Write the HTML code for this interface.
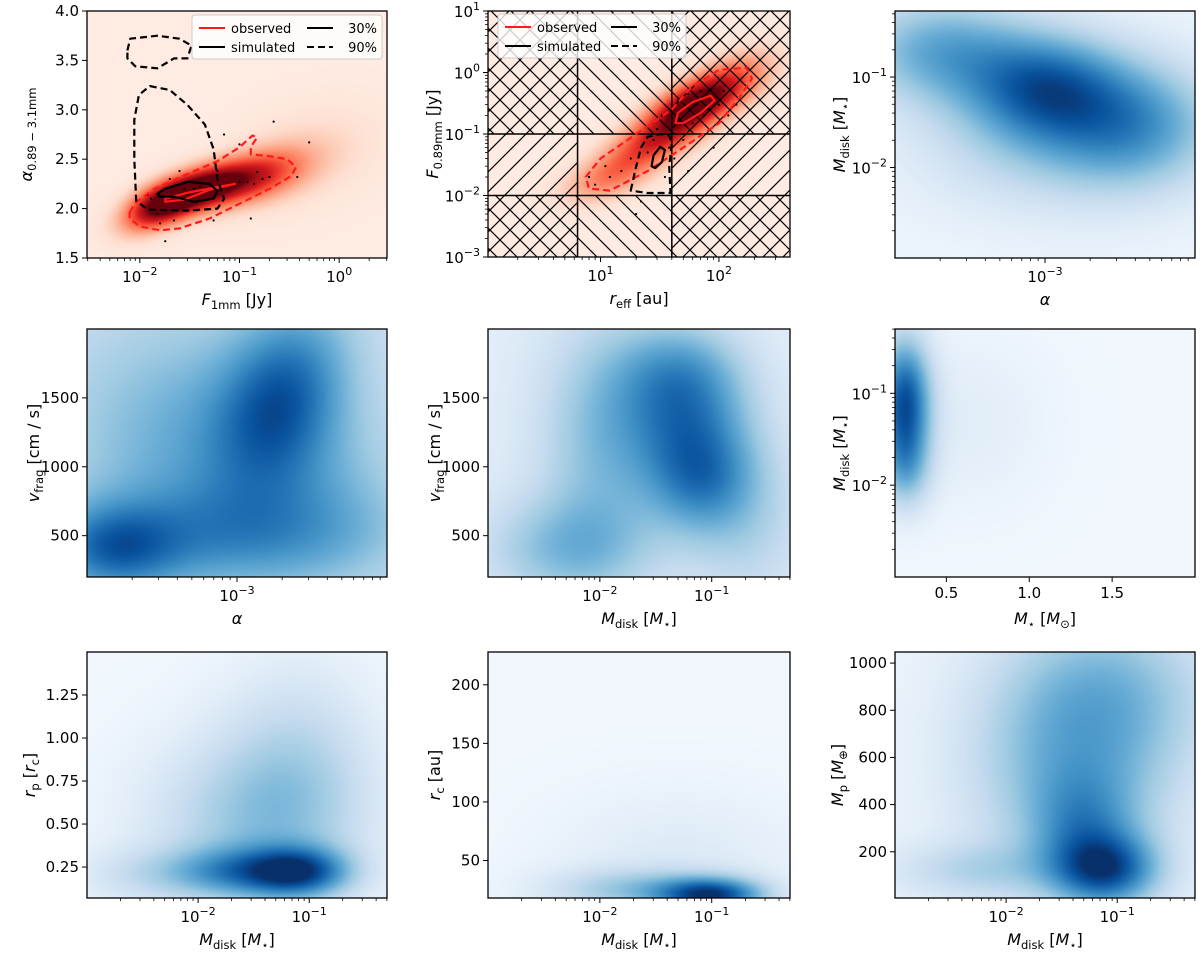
<!DOCTYPE html>
<html><head><meta charset="utf-8"><style>
body{margin:0;background:#fff;}
#wrap{position:relative;width:1200px;height:956px;overflow:hidden;font-family:"DejaVu Sans","Liberation Sans",sans-serif;}
canvas{position:absolute;}
svg{position:absolute;left:0;top:0;}
</style></head><body>
<div id="wrap">
<svg id="svg" width="1200" height="956"></svg>
</div>
<script>
// ---- data arrays (blob components: x, y, sx, sy, weight, rho) ----
const p1Blobs=[[0.03,2.15,0.1,0.07,0.85,0.6],[0.015,2.02,0.08,0.07,0.6,0.5],[0.08,2.25,0.11,0.07,0.6,0.5],[0.2,2.35,0.11,0.08,0.3,0.4],[0.5,2.55,0.16,0.13,0.1,0.3]];
const p2Blobs=[[60,0.3,0.1,0.08,0.9,0.6],[30,0.08,0.11,0.08,0.55,0.6],[12,0.02,0.1,0.07,0.35,0.5],[130,0.7,0.1,0.09,0.35,0.5]];
const p3Blobs=[[1e-3,0.08,0.18,0.15,0.6,0],[2e-4,0.2,0.2,0.15,0.45,0],[4e-3,0.03,0.2,0.18,0.45,0],[1e-3,0.02,0.3,0.2,0.25,0]];
const p4Blobs=[[1.5e-4,400,0.15,0.12,0.45,0],[2e-3,1500,0.15,0.25,0.5,0.3],[5e-4,1200,0.3,0.35,0.3,0],[1e-3,500,0.35,0.15,0.3,0],[4e-3,800,0.2,0.25,0.15,0]];
const p5Blobs=[[0.06,1300,0.15,0.2,0.45,0],[0.08,900,0.12,0.15,0.35,0],[0.05,1700,0.15,0.15,0.3,0],[0.005,400,0.2,0.15,0.3,0],[0.01,1200,0.15,0.35,0.3,0],[0.2,600,0.15,0.25,0.2,0]];
const p6Blobs=[[0.25,0.08,0.06,0.18,0.8,0],[0.25,0.015,0.06,0.12,0.3,0],[0.6,0.05,0.2,0.25,0.08,0]];
const p7Blobs=[[0.08,0.22,0.12,0.07,0.7,0],[0.02,0.22,0.15,0.07,0.4,0],[0.03,0.5,0.25,0.25,0.3,0],[0.08,0.85,0.18,0.3,0.2,0],[0.003,0.2,0.15,0.08,0.15,0]];
const p8Blobs=[[0.1,20,0.12,0.05,0.8,0],[0.02,25,0.2,0.06,0.3,0],[0.05,50,0.3,0.2,0.1,0]];
const p9Blobs=[[0.08,120,0.12,0.1,0.65,0],[0.05,300,0.12,0.15,0.3,0],[0.04,550,0.25,0.35,0.4,0],[0.1,900,0.25,0.25,0.25,0],[0.005,120,0.2,0.08,0.2,0]];
// contours panel 1 (F1mm, alpha)
const p1RedDashed=[[0.0079,1.96],[0.009,2.06],[0.014,2.2],[0.03,2.35],[0.06,2.48],[0.1,2.62],[0.135,2.74],[0.15,2.72],[0.13,2.62],[0.13,2.55],[0.2,2.53],[0.3,2.5],[0.37,2.42],[0.33,2.33],[0.2,2.2],[0.1,2.05],[0.05,1.9],[0.025,1.8],[0.016,1.78],[0.01,1.82],[0.0079,1.9]];
const p1RedSolid=[[0.018,2.1],[0.03,2.16],[0.06,2.22],[0.09,2.25],[0.05,2.19],[0.028,2.09],[0.018,2.07]];
const p1BlackDashedA=[[0.0126,3.24],[0.02,3.2],[0.03,3.05],[0.045,2.85],[0.055,2.6],[0.06,2.3],[0.07,2.1],[0.06,2.0],[0.03,1.98],[0.012,1.99],[0.0092,2.08],[0.0088,2.5],[0.0088,2.9],[0.0098,3.15]];
const p1BlackDashedB=[[0.0075,3.6],[0.008,3.72],[0.015,3.75],[0.025,3.72],[0.033,3.65],[0.03,3.52],[0.022,3.52],[0.015,3.42],[0.009,3.44],[0.0075,3.52]];
const p1BlackSolid=[[0.015,2.15],[0.018,2.2],[0.03,2.27],[0.05,2.25],[0.06,2.18],[0.055,2.1],[0.035,2.07],[0.022,2.12],[0.016,2.12]];
const p1Points=[[0.013,2.1],[0.015,1.95],[0.016,1.85],[0.018,1.67],[0.02,2.3],[0.022,1.88],[0.025,2.38],[0.028,2.2],[0.03,2.15],[0.035,2.2],[0.04,2.22],[0.055,1.88],[0.06,2.38],[0.07,2.75],[0.1,2.65],[0.1,2.27],[0.12,2.27],[0.13,1.9],[0.15,2.37],[0.14,2.25],[0.17,2.3],[0.2,2.32],[0.22,2.88],[0.38,2.32],[0.5,2.67],[0.012,2.14]];
// contours panel 2 (r_eff, F0.89mm)
const p2RedDashed=[[7.5,0.02],[10,0.04],[20,0.1],[40,0.25],[60,0.6],[100,1.1],[170,1.2],[190,0.8],[150,0.4],[100,0.15],[50,0.06],[25,0.025],[12,0.012],[8,0.013]];
const p2RedSolid=[[43,0.15],[45,0.22],[60,0.33],[85,0.42],[92,0.35],[70,0.22],[50,0.15]];
const p2BlackDashed=[[18,0.012],[20,0.03],[22,0.06],[25,0.09],[32,0.1],[38,0.095],[40,0.07],[38,0.03],[39,0.011],[25,0.011]];
const p2BlackSolid=[[27,0.03],[28,0.045],[32,0.062],[35,0.055],[33,0.035],[29,0.028]];
const p2Points=[[8,0.02],[9,0.015],[11,0.03],[12,0.02],[15,0.025],[18,0.04],[20,0.005],[22,0.008],[25,0.05],[28,0.08],[30,0.12],[33,0.2],[35,0.02],[38,0.06],[42,0.04],[45,0.35],[50,0.08],[55,0.025],[60,0.15],[65,0.3],[70,0.5],[75,0.2],[80,0.25],[90,0.06],[100,0.3],[110,0.5],[120,0.2],[140,0.3],[45,0.15],[55,0.45]];
// hatch region boundaries (panel 2)
const p2VLines=[6.4,40];
const p2HLines=[0.01,0.1];

const BLUES=["#f7fbff","#deebf7","#c6dbef","#9ecae1","#6baed6","#4292c6","#2171b5","#08519c","#08306b"];
const REDS=["#fff5f0","#fee0d2","#fcbba1","#fc9272","#fb6a4a","#ef3b2c","#cb181d","#a50f15","#67000d"];

const NS="http://www.w3.org/2000/svg";
const svg=document.getElementById('svg');
const wrap=document.getElementById('wrap');
function el(tag,attrs,parent){const e=document.createElementNS(NS,tag);for(const k in attrs)e.setAttribute(k,attrs[k]);(parent||svg).appendChild(e);return e;}
function scale(type,d0,d1,p0,p1){const f=type==='log'?(v=>Math.log10(v)):(v=>v);const a=f(d0),b=f(d1);const s=v=>p0+(f(v)-a)/(b-a)*(p1-p0);s.frac=v=>(f(v)-a)/(b-a);s.type=type;s.d0=d0;s.d1=d1;return s;}
function hex(h){return [parseInt(h.substr(1,2),16),parseInt(h.substr(3,2),16),parseInt(h.substr(5,2),16)];}
function cmap(stops,t){t=Math.max(0,Math.min(1,t));const n=stops.length-1;const i=Math.min(n-1,Math.floor(t*n));const f=t*n-i;const a=hex(stops[i]),b=hex(stops[i+1]);return [a[0]+(b[0]-a[0])*f,a[1]+(b[1]-a[1])*f,a[2]+(b[2]-a[2])*f];}

const panels=[
 {id:'p1',x:87,y:11,w:300,h:247,xs:['log',10**-2.53,10**0.48],ys:['lin',1.5,4.0],blobs:p1Blobs,base:0.06,cm:REDS,
  xt:[0.01,0.1,1],yt:[1.5,2.0,2.5,3.0,3.5,4.0],yfmt:v=>v.toFixed(1),
  xl:[['F','i'],['1mm','sub'],[' [Jy]','n']],yl:[['α','i'],['0.89 − 3.1mm','sub']]},
 {id:'p2',x:488,y:11,w:302,h:246,xs:['log',10**0.05,10**2.6],ys:['log',1e-3,10],blobs:p2Blobs,base:0.06,cm:REDS,
  xt:[10,100],yt:[1e-3,1e-2,1e-1,1,10],
  xl:[['r','i'],['eff','sub'],[' [au]','n']],yl:[['F','i'],['0.89mm','sub'],[' [Jy]','n']]},
 {id:'p3',x:895,y:11,w:300,h:247,xs:['log',1e-4,1e-2],ys:['log',1e-3,10**-0.27],blobs:p3Blobs,base:0.05,cm:BLUES,
  xt:[1e-3],yt:[1e-2,1e-1],
  xl:[['α','i']],yl:[['M','i'],['disk','sub'],[' [','n'],['M','i'],['⋆','sub'],[']','n']]},
 {id:'p4',x:87,y:329,w:300,h:248,xs:['log',1e-4,1e-2],ys:['lin',200,2000],blobs:p4Blobs,base:0.2,cm:BLUES,
  xt:[1e-3],yt:[500,1000,1500],yfmt:v=>String(v),
  xl:[['α','i']],yl:[['v','i'],['frag','sub'],[' [cm / s]','n']]},
 {id:'p5',x:488,y:329,w:302,h:248,xs:['log',1e-3,10**-0.3],ys:['lin',200,2000],blobs:p5Blobs,base:0.1,cm:BLUES,
  xt:[1e-2,1e-1],yt:[500,1000,1500],yfmt:v=>String(v),
  xl:[['M','i'],['disk','sub'],[' [','n'],['M','i'],['⋆','sub'],[']','n']],yl:[['v','i'],['frag','sub'],[' [cm / s]','n']]},
 {id:'p6',x:895,y:329,w:300,h:248,xs:['lin',0.19,2.0],ys:['log',1e-3,10**-0.3],blobs:p6Blobs,base:0.03,cm:BLUES,
  xt:[0.5,1.0,1.5],xfmt:v=>v.toFixed(1),yt:[1e-2,1e-1],
  xl:[['M','i'],['⋆','sub'],[' [','n'],['M','i'],['⊙','sub'],[']','n']],yl:[['M','i'],['disk','sub'],[' [','n'],['M','i'],['⋆','sub'],[']','n']]},
 {id:'p7',x:87,y:652,w:300,h:246,xs:['log',1e-3,10**-0.3],ys:['lin',0.07,1.5],blobs:p7Blobs,base:0.03,cm:BLUES,
  xt:[1e-2,1e-1],yt:[0.25,0.5,0.75,1.0,1.25],yfmt:v=>v.toFixed(2),
  xl:[['M','i'],['disk','sub'],[' [','n'],['M','i'],['⋆','sub'],[']','n']],yl:[['r','i'],['p','sub'],[' [','n'],['r','i'],['c','sub'],[']','n']]},
 {id:'p8',x:488,y:652,w:302,h:246,xs:['log',1e-3,10**-0.3],ys:['lin',18,228],blobs:p8Blobs,base:0.03,cm:BLUES,
  xt:[1e-2,1e-1],yt:[50,100,150,200],yfmt:v=>String(v),
  xl:[['M','i'],['disk','sub'],[' [','n'],['M','i'],['⋆','sub'],[']','n']],yl:[['r','i'],['c','sub'],[' [au]','n']]},
 {id:'p9',x:895,y:652,w:300,h:246,xs:['log',1e-3,10**-0.3],ys:['lin',4,1047],blobs:p9Blobs,base:0.05,cm:BLUES,
  xt:[1e-2,1e-1],yt:[200,400,600,800,1000],yfmt:v=>String(v),
  xl:[['M','i'],['disk','sub'],[' [','n'],['M','i'],['⋆','sub'],[']','n']],yl:[['M','i'],['p','sub'],[' [','n'],['M','i'],['⊕','sub'],[']','n']]}
];

function richText(parent,x,y,parts,size,rot){
 const t=el('text',{x:x,y:y,'font-size':size,'text-anchor':'middle',fill:'#000'},parent);
 if(rot)t.setAttribute('transform','rotate(-90 '+x+' '+y+')');
 let sub=false;
 parts.forEach(p=>{const ts=el('tspan',{},t);ts.textContent=p[0];
  if(p[1]==='i')ts.setAttribute('font-style','italic');
  if(p[1]==='sub'&&!sub){ts.setAttribute('dy',4);ts.setAttribute('font-size',size*0.72);sub=true;}
  else if(p[1]==='sub'){ts.setAttribute('font-size',size*0.72);}
  else if(sub){ts.setAttribute('dy',-4);sub=false;}
 });
 return t;
}
function logLabel(parent,x,y,v,anchor){
 const e=Math.round(Math.log10(v));
 const t=el('text',{x:x,y:y,'font-size':15,'text-anchor':anchor,fill:'#000'},parent);
 const a=el('tspan',{},t);a.textContent='10';
 const b=el('tspan',{dy:-7,'font-size':11},t);b.textContent=(e<0?'\u2212':'')+Math.abs(e);
 return t;
}

panels.forEach(P=>{
 const sx=scale(P.xs[0],P.xs[1],P.xs[2],P.x,P.x+P.w);
 const sy=scale(P.ys[0],P.ys[1],P.ys[2],P.y+P.h,P.y);
 P.sx=sx;P.sy=sy;
 const c=document.createElement('canvas');c.width=P.w;c.height=P.h;c.style.left=P.x+'px';c.style.top=P.y+'px';
 
 
 wrap.insertBefore(c,svg);
 const ctx=c.getContext('2d');const img=ctx.createImageData(P.w,P.h);
 const comps=P.blobs.map(b=>({fx:sx.frac(b[0]),fy:sy.frac(b[1]),s1:b[2],s2:b[3],w:b[4],r:b[5]}));
 for(let j=0;j<P.h;j++){const fy=1-(j+0.5)/P.h;for(let i=0;i<P.w;i++){const fx=(i+0.5)/P.w;let d=P.base;
  for(const q of comps){const u=(fx-q.fx)/q.s1,v=(fy-q.fy)/q.s2;d+=q.w*Math.exp(-0.5*(u*u+v*v-2*q.r*u*v)/(1-q.r*q.r));}
  const col=cmap(P.cm,d);const k=(j*P.w+i)*4;img.data[k]=col[0];img.data[k+1]=col[1];img.data[k+2]=col[2];img.data[k+3]=255;}}
 ctx.putImageData(img,0,0);
 const g=el('g',{});
 const xb=P.y+P.h;
 P.xt.forEach(v=>{const px=sx(v);el('line',{x1:px,x2:px,y1:xb,y2:xb+5,stroke:'#000','stroke-width':1},g);
  if(sx.type==='log')logLabel(g,px,xb+24,v,'middle');else{const t=el('text',{x:px,y:xb+21,'font-size':15,'text-anchor':'middle'},g);t.textContent=P.xfmt(v);}});
 if(sx.type==='log'){for(let e=-5;e<4;e++)for(let m=2;m<10;m++){const v=m*10**e;if(v>sx.d0&&v<sx.d1){const px=sx(v);el('line',{x1:px,x2:px,y1:xb,y2:xb+3,stroke:'#000','stroke-width':0.8},g);}}}
 P.yt.forEach(v=>{const py=sy(v);el('line',{x1:P.x-5,x2:P.x,y1:py,y2:py,stroke:'#000','stroke-width':1},g);
  if(sy.type==='log')logLabel(g,P.x-8,py+6,v,'end');else{const t=el('text',{x:P.x-8,y:py+5,'font-size':15,'text-anchor':'end'},g);t.textContent=P.yfmt(v);}});
 if(sy.type==='log'){for(let e=-5;e<4;e++)for(let m=2;m<10;m++){const v=m*10**e;if(v>sy.d0&&v<sy.d1){const py=sy(v);el('line',{x1:P.x-3,x2:P.x,y1:py,y2:py,stroke:'#000','stroke-width':0.8},g);}}}
 const xlab=richText(g,P.x+P.w/2,xb+47,P.xl,16,false);
 
 const ylx=P.id==='p1'?32:P.x-(sy.type==='log'?50:(P.id==='p7'||P.id==='p9'?52:48));
 const ylab=richText(g,ylx,P.y+P.h/2,P.yl,16,true);
 
});

const defs=el('defs',{});
const HS=20;
function pat(id,dirs){const p=el('pattern',{id:id,patternUnits:'userSpaceOnUse',width:HS,height:HS},defs);
 dirs.forEach(d=>{if(d==='\\'){el('line',{x1:-1,y1:-1,x2:HS+1,y2:HS+1,stroke:'#000','stroke-width':1.2},p);el('line',{x1:-HS/2,y1:HS/2,x2:HS/2,y2:HS*1.5,stroke:'#000','stroke-width':1.2},p);el('line',{x1:HS/2,y1:-HS/2,x2:HS*1.5,y2:HS/2,stroke:'#000','stroke-width':1.2},p);}
 else{el('line',{x1:-1,y1:HS+1,x2:HS+1,y2:-1,stroke:'#000','stroke-width':1.2},p);el('line',{x1:-HS/2,y1:HS/2,x2:HS/2,y2:-HS/2,stroke:'#000','stroke-width':1.2},p);el('line',{x1:HS/2,y1:HS*1.5,x2:HS*1.5,y2:HS/2,stroke:'#000','stroke-width':1.2},p);}});}
pat('hx',['\\','/']);pat('hb',['\\']);pat('hf',['/']);
panels.forEach(P=>{const cp=el('clipPath',{id:'clip'+P.id},defs);el('rect',{x:P.x,y:P.y,width:P.w,height:P.h},cp);});
(function(){
 const P=panels[1],sx=P.sx,sy=P.sy;
 const xs=[P.x,sx(p2VLines[0]),sx(p2VLines[1]),P.x+P.w];
 const ys=[P.y,sy(p2HLines[1]),sy(p2HLines[0]),P.y+P.h];
 const grid=[['hx','hb','hx'],['hf',null,'hf'],['hx','hb','hx']];
 const hg=el('g',{'clip-path':'url(#clipp2)'});
 
 for(let r=0;r<3;r++)for(let c=0;c<3;c++){if(grid[r][c])el('rect',{x:xs[c],y:ys[r],width:xs[c+1]-xs[c],height:ys[r+1]-ys[r],fill:'url(#'+grid[r][c]+')'},hg);}
 p2VLines.forEach(v=>el('line',{x1:sx(v),x2:sx(v),y1:P.y,y2:P.y+P.h,stroke:'#000','stroke-width':1.5},hg));
 p2HLines.forEach(v=>el('line',{x1:P.x,x2:P.x+P.w,y1:sy(v),y2:sy(v),stroke:'#000','stroke-width':1.5},hg));
})();

function contour(P,pts,color,dash,name){
 const d=pts.map((p,i)=>(i?'L':'M')+P.sx(p[0]).toFixed(1)+','+P.sy(p[1]).toFixed(1)).join(' ')+' Z';
 const path=el('path',{d:d,fill:'none',stroke:color,'stroke-width':2.2,'stroke-dasharray':dash?'7,4':'none','stroke-linejoin':'round','clip-path':'url(#clip'+P.id+')'});
 
}
function dots(P,pts,name){const g=el('g',{});
 pts.forEach(p=>el('circle',{cx:P.sx(p[0]),cy:P.sy(p[1]),r:1.1,fill:'#000'},g));}
const P1=panels[0],P2=panels[1];
dots(P1,p1Points,'p1-observed-points');
contour(P1,p1RedDashed,'#ff1a1a',true,'p1-observed-90-contour');
contour(P1,p1RedSolid,'#ff1a1a',false,'p1-observed-30-contour');
contour(P1,p1BlackDashedA,'#000',true,'p1-simulated-90-contour');
contour(P1,p1BlackDashedB,'#000',true,'p1-simulated-90-contour-upper');
contour(P1,p1BlackSolid,'#000',false,'p1-simulated-30-contour');
dots(P2,p2Points,'p2-observed-points');
contour(P2,p2RedDashed,'#ff1a1a',true,'p2-observed-90-contour');
contour(P2,p2RedSolid,'#ff1a1a',false,'p2-observed-30-contour');
contour(P2,p2BlackDashed,'#000',true,'p2-simulated-90-contour');
contour(P2,p2BlackSolid,'#000',false,'p2-simulated-30-contour');

function legend(x,y,w,h,name){
 const g=el('g',{});
 el('rect',{x:x,y:y,width:w,height:h,rx:3,fill:'#fff','fill-opacity':0.8,stroke:'#ccc'},g);
 const rows=[['observed','#ff1a1a'],['simulated','#000']];
 rows.forEach((r,i)=>{const yy=y+13+i*19;el('line',{x1:x+7,x2:x+33,y1:yy,y2:yy,stroke:r[1],'stroke-width':2},g);const t=el('text',{x:x+39,y:yy+5,'font-size':13},g);t.textContent=r[0];});
 [['30%',false],['90%',true]].forEach((r,i)=>{const yy=y+13+i*19;el('line',{x1:x+w-75,x2:x+w-49,y1:yy,y2:yy,stroke:'#000','stroke-width':2,'stroke-dasharray':r[1]?'7,4':'none'},g);const t=el('text',{x:x+w-5,y:yy+5,'font-size':13,'text-anchor':'end'},g);t.textContent=r[0];});
}
legend(192,15,190,44,'p1-legend');
legend(498,14,188,44,'p2-legend');

panels.forEach(P=>{const r=el('rect',{x:P.x,y:P.y,width:P.w,height:P.h,fill:'none',stroke:'#000','stroke-width':1.3});
 });
</script>
</body></html>
